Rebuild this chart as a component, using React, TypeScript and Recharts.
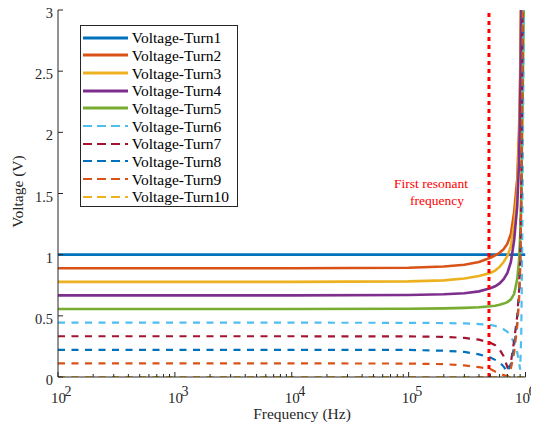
import React from 'react';
import { LineChart, Line, XAxis, YAxis, ReferenceLine, Legend, Label } from 'recharts';

// ---------- data ----------
const frequencyHz = [100, 1000, 10000, 100000, 200000, 300000, 400000, 500000, 550000, 600000, 650000, 700000, 750000, 800000, 850000, 880000, 900000, 920000, 940000, 960000, 980000, 1000000];

const turn1 = [1, 1, 1, 1, 1, 1, 1, 1, 1, 1, 1, 1, 1, 1, 1, 1, 1, 1, 1, 1, 1, 1];
const turn2 = [0.889, 0.889, 0.889, 0.893, 0.903, 0.918, 0.94, 0.975, 0.995, 1.015, 1.045, 1.09, 1.17, 1.35, 1.62, 2.0, 2.45, 3.3, 5, 6, 6, 6];
const turn3 = [0.778, 0.778, 0.778, 0.782, 0.79, 0.805, 0.825, 0.85, 0.87, 0.9, 0.94, 0.99, 1.07, 1.25, 1.52, 1.9, 2.35, 3.2, 5, 6, 6, 6];
const turn4 = [0.667, 0.667, 0.667, 0.67, 0.676, 0.685, 0.7, 0.725, 0.742, 0.765, 0.8, 0.85, 0.94, 1.12, 1.4, 1.75, 2.2, 3.0, 4.8, 6, 6, 6];
const turn5 = [0.556, 0.556, 0.556, 0.558, 0.561, 0.565, 0.57, 0.578, 0.583, 0.59, 0.6, 0.612, 0.635, 0.68, 0.8, 0.95, 1.15, 1.5, 2.1, 2.8, 3.6, 6];
const turn6 = [0.444, 0.444, 0.444, 0.443, 0.441, 0.438, 0.433, 0.425, 0.418, 0.405, 0.39, 0.37, 0.33, 0.28, 0.2, 0.12, 0.06, 0.35, 1.2, 2.5, 4, 6];
const turn7 = [0.333, 0.333, 0.333, 0.332, 0.328, 0.32, 0.305, 0.28, 0.26, 0.225, 0.17, 0.08, 0.12, 0.3, 0.5, 0.7, 0.95, 1.5, 2.6, 4.5, 6, 6];
const turn8 = [0.222, 0.222, 0.222, 0.221, 0.215, 0.205, 0.185, 0.16, 0.14, 0.12, 0.085, 0.04, 0.11, 0.25, 0.45, 0.66, 0.9, 1.45, 2.5, 4.5, 6, 6];
const turn9 = [0.111, 0.111, 0.111, 0.11, 0.105, 0.095, 0.08, 0.065, 0.045, 0.03, 0.015, 0.008, 0.07, 0.2, 0.42, 0.62, 0.88, 1.4, 2.45, 4.4, 6, 6];
const turn10 = [0, 0, 0, 0, 0, 0, 0, 0, 0, 0, 0, 0, 0, 0, 0, 0, 0, 0, 0, 0, 0, 0];

const seriesNames = ['Voltage-Turn1', 'Voltage-Turn2', 'Voltage-Turn3', 'Voltage-Turn4', 'Voltage-Turn5', 'Voltage-Turn6', 'Voltage-Turn7', 'Voltage-Turn8', 'Voltage-Turn9', 'Voltage-Turn10'];
const seriesColors = ['#0072BD', '#D95319', '#EDB120', '#7E2F8E', '#77AC30', '#4DBEEE', '#A2142F', '#0072BD', '#D95319', '#EDB120'];
const seriesDashed = [false, false, false, false, false, true, true, true, true, true];
const seriesValues = [turn1, turn2, turn3, turn4, turn5, turn6, turn7, turn8, turn9, turn10];

const xTicks = [100, 200, 300, 400, 500, 600, 700, 800, 900, 1000, 2000, 3000, 4000, 5000, 6000, 7000, 8000, 9000, 10000, 20000, 30000, 40000, 50000, 60000, 70000, 80000, 90000, 100000, 200000, 300000, 400000, 500000, 600000, 700000, 800000, 900000, 1000000];
const xMajorTicks = [100, 1000, 10000, 100000, 1000000];
const xMajorExponents = ['2', '3', '4', '5', '6'];
const yTicks = [0, 0.5, 1, 1.5, 2, 2.5, 3];
const yTickLabels = ['0', '0.5', '1', '1.5', '2', '2.5', '3'];
const resonantFrequency = 487000;

const data = frequencyHz.map((f, i) => {
  const row: Record<string, number> = { f };
  seriesValues.forEach((vals, k) => {
    row['t' + (k + 1)] = vals[i];
  });
  return row;
});

// ---------- styling ----------
const FONT = 'Liberation Serif, DejaVu Serif, serif';
const AXIS = '#262626';

const BottomTick = (props: any) => {
  const { x, y, payload } = props;
  const idx = xMajorTicks.indexOf(payload.value);
  const major = idx >= 0;
  const shift = idx === xMajorTicks.length - 1 ? -10.5 : -7;
  return (
    <g>
      <line x1={x} x2={x} y1={y} y2={y - (major ? 5 : 3)} stroke={AXIS} strokeWidth={1} />
      {major && (
        <text x={x + shift} y={y + 26} style={{ fontFamily: FONT }} fontSize={15} fill={AXIS} textAnchor="start">
          10
          <tspan dx={-1.5} dy={-7} fontSize={14}>{xMajorExponents[idx]}</tspan>
        </text>
      )}
    </g>
  );
};

const TopTick = (props: any) => {
  const { x, y, payload } = props;
  const major = xMajorTicks.indexOf(payload.value) >= 0;
  return <line x1={x} x2={x} y1={y} y2={y + (major ? 5 : 3)} stroke={AXIS} strokeWidth={1} />;
};

const LeftTick = (props: any) => {
  const { x, y, payload } = props;
  const idx = yTicks.indexOf(payload.value);
  return (
    <g>
      <line x1={x} x2={x + 5} y1={y} y2={y} stroke={AXIS} strokeWidth={1} />
      <text x={x - 5} y={y + 8} style={{ fontFamily: FONT }} fontSize={14.5} fill={AXIS} textAnchor="end">
        {yTickLabels[idx]}
      </text>
    </g>
  );
};

const RightTick = (props: any) => {
  const { x, y } = props;
  return <line x1={x} x2={x - 5} y1={y} y2={y} stroke={AXIS} strokeWidth={1} />;
};

const renderLegend = () => (
  <div
    style={{
      border: `1px solid ${AXIS}`,
      background: '#fff',
      padding: '3px 4px 0.5px 2.3px',
      boxSizing: 'border-box',
      width: 158,
      fontFamily: FONT,
      fontSize: 15.5,
      color: '#000',
    }}
  >
    {seriesNames.map((n, k) => (
      <div key={n} style={{ display: 'flex', alignItems: 'center', height: 17.67, whiteSpace: 'nowrap' }}>
        <svg width={45} height={6} style={{ marginRight: 3.4, flex: 'none' }}>
          <line
            x1={0}
            x2={45}
            y1={3}
            y2={3}
            stroke={seriesColors[k]}
            strokeWidth={seriesDashed[k] ? 2.2 : 2.8}
            strokeDasharray={seriesDashed[k] ? '9 5' : undefined}
          />
        </svg>
        <span style={{ lineHeight: '17px', fontFamily: FONT }}>{n}</span>
      </div>
    ))}
  </div>
);

export default function App() {
  return (
    <div style={{ fontFamily: FONT, marginTop: -8 }}>
      <LineChart
        width={531}
        height={432}
        data={data}
        margin={{ top: 10, right: 13.5, bottom: 0, left: 0 }}
        style={{ fontFamily: FONT }}
      >
        <XAxis
          dataKey="f"
          type="number"
          scale="log"
          domain={[100, 1000000]}
          ticks={xTicks}
          interval={0}
          allowDataOverflow
          height={55}
          tickLine={false}
          tickSize={0}
          tickMargin={0}
          axisLine={{ stroke: AXIS, strokeWidth: 1 }}
          tick={(p: any) => <BottomTick {...p} />}
        >
          <Label
            content={() => (
              <text x={294} y={419} style={{ fontFamily: FONT }} fontSize={15.5} fill={AXIS} textAnchor="middle">
                Frequency (Hz)
              </text>
            )}
          />
        </XAxis>
        <XAxis
          xAxisId="top"
          orientation="top"
          type="number"
          scale="log"
          domain={[100, 1000000]}
          ticks={xTicks}
          interval={0}
          allowDataOverflow
          height={0}
          tickLine={false}
          tickSize={0}
          tickMargin={0}
          axisLine={{ stroke: AXIS, strokeWidth: 1 }}
          tick={(p: any) => <TopTick {...p} />}
        />
        <YAxis
          type="number"
          domain={[0, 3]}
          ticks={yTicks}
          interval={0}
          allowDataOverflow
          width={50}
          tickLine={false}
          tickSize={0}
          tickMargin={0}
          axisLine={{ stroke: AXIS, strokeWidth: 1 }}
          tick={(p: any) => <LeftTick {...p} />}
        >
          <Label
            content={() => (
              <text
                x={15}
                y={191.5}
                transform="rotate(-90 15 191.5)"
                style={{ fontFamily: FONT }}
                fontSize={15.5}
                fill={AXIS}
                textAnchor="middle"
              >
                Voltage (V)
              </text>
            )}
          />
        </YAxis>
        <YAxis
          yAxisId="right"
          orientation="right"
          type="number"
          domain={[0, 3]}
          ticks={yTicks}
          interval={0}
          allowDataOverflow
          width={0}
          tickLine={false}
          tickSize={0}
          tickMargin={0}
          axisLine={{ stroke: AXIS, strokeWidth: 1 }}
          tick={(p: any) => <RightTick {...p} />}
        />
        {seriesNames.map((n, k) => (
          <Line
            key={n}
            name={n}
            dataKey={'t' + (k + 1)}
            type="linear"
            stroke={seriesColors[k]}
            strokeWidth={seriesDashed[k] ? 2.2 : 2.6}
            strokeDasharray={seriesDashed[k] ? '7 6.5' : undefined}
            dot={false}
            activeDot={false}
            isAnimationActive={false}
          />
        ))}
        <ReferenceLine
          x={resonantFrequency}
          stroke="#FF0000"
          strokeWidth={3}
          strokeDasharray="4 4"
          label={(p: any) => {
            const vx = p?.viewBox?.x ?? 481;
            return (
              <g>
                <text x={vx - 58} y={188} style={{ fontFamily: FONT }} fontSize={13.5} fill="#FF0000" textAnchor="middle">
                  First resonant
                </text>
                <text x={vx - 52} y={205} style={{ fontFamily: FONT }} fontSize={13.5} fill="#FF0000" textAnchor="middle">
                  frequency
                </text>
              </g>
            );
          }}
        />
        <Legend
          layout="vertical"
          align="center"
          verticalAlign="middle"
          content={renderLegend}
          wrapperStyle={{ position: 'absolute', left: 72, top: 25, width: 'auto', height: 'auto' }}
        />
      </LineChart>
    </div>
  );
}
